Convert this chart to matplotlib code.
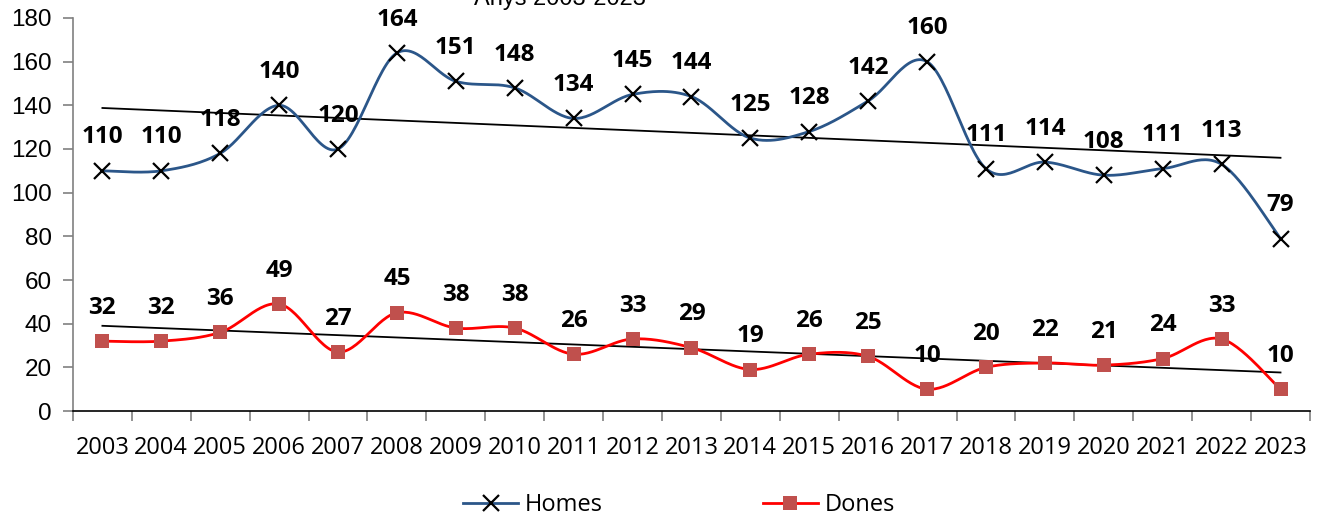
import numpy as np
import matplotlib.pyplot as plt

years = [str(y) for y in range(2003, 2024)]
homes = [110, 110, 118, 140, 120, 164, 151, 148, 134, 145, 144, 125, 128, 142, 160, 111, 114, 108, 111, 113, 79]
dones = [32, 32, 36, 49, 27, 45, 38, 38, 26, 33, 29, 19, 26, 25, 10, 20, 22, 21, 24, 33, 10]


def smooth(x, y, n=30):
    """Catmull-Rom curve through the points (like Excel's smoothed line)"""
    x = np.asarray(x, float)
    y = np.asarray(y, float)
    px = np.concatenate([[x[0]], x, [x[-1]]])
    py = np.concatenate([[y[0]], y, [y[-1]]])
    xs, ys = [], []
    t = np.linspace(0, 1, n)
    for i in range(1, len(px) - 2):
        for p, out in ((px, xs), (py, ys)):
            p0, p1, p2, p3 = p[i - 1], p[i], p[i + 1], p[i + 2]
            out.extend(0.5 * ((2 * p1) + (-p0 + p2) * t
                              + (2 * p0 - 5 * p1 + 4 * p2 - p3) * t ** 2
                              + (-p0 + 3 * p1 - 3 * p2 + p3) * t ** 3))
    return np.array(xs), np.array(ys)


fig = plt.figure(figsize=(13.24, 5.2), dpi=100)
ax = fig.add_axes([0.0551, 0.2096, 0.9343, 0.7558])

x = np.arange(len(years))

series = [
    (homes, "Homes", "#2B5689", dict(marker="x", markersize=12, markeredgewidth=1.6,
                                     markeredgecolor="black", markerfacecolor="black")),
    (dones, "Dones", "#FF0000", dict(marker="s", markersize=10, markeredgewidth=0,
                                     markerfacecolor="#C0504D")),
]

for vals, name, col, mk in series:
    sx, sy = smooth(x, vals)
    ax.plot(sx, sy, color=col, lw=2, zorder=2)
    ax.plot(x, vals, linestyle="none", zorder=3, **mk)
    # legend handle
    ax.plot([], [], color=col, lw=2, label=name, **mk)
    # linear trend line
    k, b = np.polyfit(x, vals, 1)
    ax.plot([x[0], x[-1]], [k * x[0] + b, k * x[-1] + b], color="black", lw=1.3, zorder=1)
    for xi, v in zip(x, vals):
        ax.annotate(str(v), (xi, v), xytext=(0, 24), textcoords="offset points",
                    ha="center", va="center", fontsize=17.5, fontweight="bold",
                    family="Open Sans", zorder=4)

ax.set_xlim(-0.5, len(years) - 0.5)
ax.set_ylim(0, 180)
ax.set_yticks(range(0, 181, 20))
ax.tick_params(axis="y", labelsize=17.5, length=7, color="#808080", width=1.2, pad=8)
for lab in ax.get_yticklabels():
    lab.set_family("Liberation Sans")

ax.set_xticks(x)
ax.set_xticklabels(years, family="Open Sans", fontsize=17)
ax.set_xticks(np.arange(-0.5, len(years)), minor=True)
ax.tick_params(axis="x", which="major", length=0, pad=18)
ax.tick_params(axis="x", which="minor", length=7, color="#808080", width=1.2)

ax.spines["top"].set_visible(False)
ax.spines["right"].set_visible(False)
ax.spines["left"].set_color("#808080")
ax.spines["left"].set_linewidth(1.2)
ax.spines["bottom"].set_color("black")
ax.spines["bottom"].set_linewidth(1.2)

# title sits mostly off the top of the image, as in the source
fig.text(0.423, 1 - 5 / 520, "Anys 2003-2023", ha="center", va="baseline",
         fontsize=17, family="Liberation Sans")

fig.legend(loc="center", bbox_to_anchor=(0.513, 1 - 505 / 520), ncol=2, frameon=False,
           prop={"family": "Open Sans", "size": 17}, columnspacing=6.8,
           handlelength=2.3, handletextpad=0.3, borderpad=0)

fig.savefig("out.png", dpi=100)
